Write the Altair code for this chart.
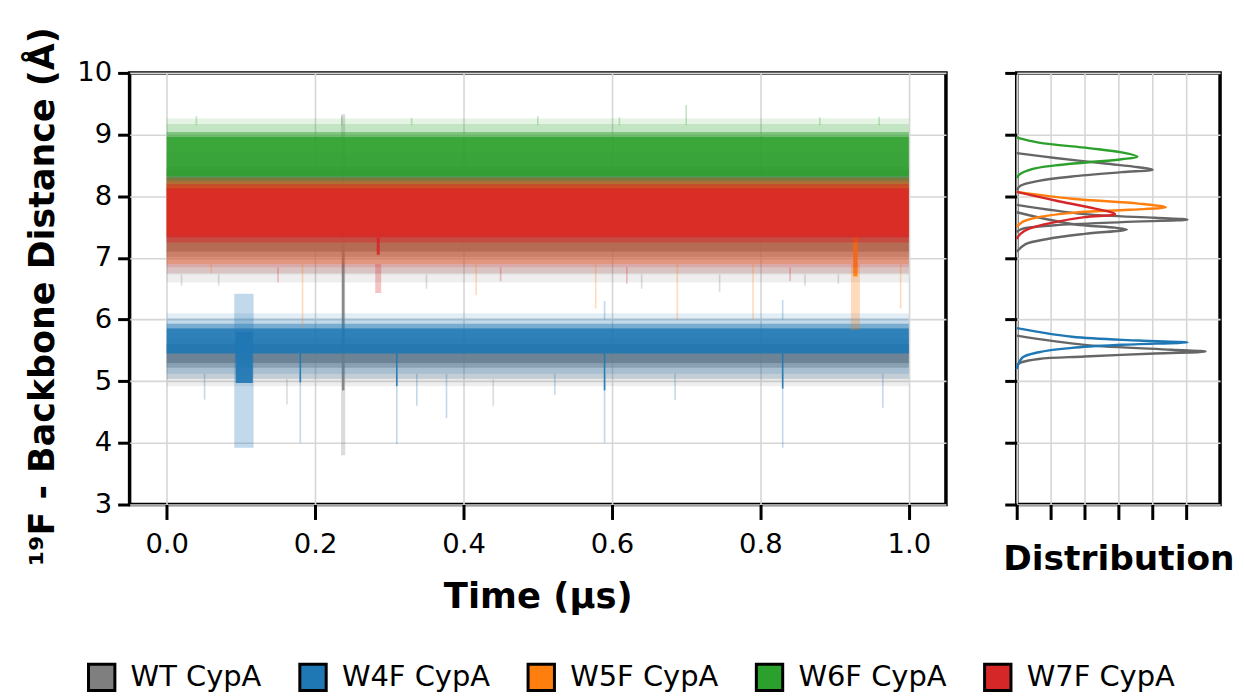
import altair as alt
import pandas as pd

SERIES = ["WT CypA", "W4F CypA", "W5F CypA", "W6F CypA", "W7F CypA"]
COLORS = ["#7f7f7f", "#1f77b4", "#ff7f0e", "#2ca02c", "#d62728"]
LINE_COLORS = ["#666666", "#1f77b4", "#ff7f0e", "#2ca02c", "#d62728"]

# ---- time-series envelopes (raw = faint, smooth = dense core, *edge = fuzzy rim) ----
band_series = ["WT CypA"] * 11 + ["W4F CypA"] * 7 + ["W5F CypA"] * 5 + ["W6F CypA"] * 5 + ["W7F CypA"] * 7
band_kind = ["raw", "rawedge", "raw", "rawedge", "raw", "smooth", "smoothedge", "smooth", "smoothedge", "smooth", "smoothedge",
             "raw", "rawedge", "rawedge", "raw", "smooth", "smoothedge", "smooth",
             "raw", "raw", "smooth", "smoothedge", "smooth",
             "raw", "rawedge", "smooth", "smoothedge", "smoothedge",
             "raw", "rawedge", "raw", "smooth", "smoothedge", "smoothedge", "smooth"]
band_t0 = [0.0, 0.0, 0.0, 0.0, 0.235, 0.0, 0.0, 0.0, 0.0, 0.2362, 0.0,
           0.0, 0.0, 0.0, 0.091, 0.0, 0.0, 0.093,
           0.0, 0.922, 0.0, 0.0, 0.925,
           0.0, 0.0, 0.0, 0.0, 0.0,
           0.0, 0.0, 0.281, 0.0, 0.0, 0.0, 0.283]
band_t1 = [1.0, 1.0, 1.0, 1.0, 0.2405, 1.0, 1.0, 1.0, 1.0, 0.2395, 1.0,
           1.0, 1.0, 1.0, 0.117, 1.0, 1.0, 0.116,
           1.0, 0.934, 1.0, 1.0, 0.931,
           1.0, 1.0, 1.0, 1.0, 1.0,
           1.0, 1.0, 0.289, 1.0, 1.0, 1.0, 0.287]
band_lo = [6.73, 6.60, 5.03, 4.92, 3.80, 7.10, 7.01, 5.29, 5.22, 4.85, 8.42,
           5.12, 6.02, 5.04, 3.92, 5.45, 5.86, 4.97,
           6.90, 5.83, 7.38, 8.17, 6.70,
           8.10, 9.17, 8.33, 8.97, 8.25,
           6.85, 6.75, 6.43, 7.33, 7.25, 8.13, 7.05]
band_hi = [8.70, 6.73, 5.70, 5.03, 9.33, 8.42, 7.10, 5.60, 5.29, 8.30, 8.47,
           6.02, 6.10, 5.12, 6.42, 5.86, 5.93, 5.80,
           8.30, 6.90, 8.17, 8.24, 7.38,
           9.17, 9.26, 8.97, 9.04, 8.33,
           8.30, 6.85, 6.90, 8.13, 7.33, 8.20, 7.33]

# ---- isolated excursions ----
spike_series = ["W4F CypA"] * 16 + ["WT CypA"] * 9 + ["W5F CypA"] * 7 + ["W6F CypA"] * 8 + ["W7F CypA"] * 4
spike_kind = ["raw"] * 12 + ["smooth"] * 4 + ["raw"] * 9 + ["raw"] * 7 + ["raw"] * 8 + ["raw"] * 4
spike_t = [0.051, 0.180, 0.310, 0.337, 0.377, 0.523, 0.590, 0.590, 0.685, 0.830, 0.830, 0.965,
           0.180, 0.310, 0.590, 0.830,
           0.162, 0.440, 0.070, 0.350, 0.860, 0.020, 0.640, 0.745, 0.905,
           0.060, 0.183, 0.417, 0.578, 0.688, 0.790, 0.989,
           0.040, 0.236, 0.330, 0.500, 0.610, 0.700, 0.880, 0.960,
           0.150, 0.450, 0.620, 0.840]
spike_lo = [4.70, 4.00, 3.98, 4.60, 4.40, 4.78, 4.00, 6.00, 4.70, 3.92, 6.00, 4.57,
            4.98, 4.92, 4.85, 4.88,
            4.62, 4.60, 6.55, 6.50, 6.55, 6.55, 6.50, 6.45, 6.58,
            6.75, 5.88, 6.40, 6.18, 6.00, 6.00, 6.18,
            9.15, 9.15, 9.15, 9.15, 9.15, 9.15, 9.15, 9.15,
            6.60, 6.62, 6.58, 6.62]
spike_hi = [5.12, 5.12, 5.12, 5.12, 5.12, 5.12, 5.12, 6.30, 5.12, 5.12, 6.32, 5.12,
            5.45, 5.45, 5.45, 5.45,
            5.03, 5.03, 6.73, 6.73, 6.73, 6.73, 6.73, 6.73, 6.73,
            6.90, 6.90, 6.90, 6.90, 6.90, 6.90, 6.90,
            9.30, 9.30, 9.27, 9.30, 9.28, 9.48, 9.28, 9.29,
            6.85, 6.85, 6.85, 6.85]

# ---- distribution curves (distance, density) ----
wt6_y = [8.70, 8.62, 8.53, 8.47, 8.43, 8.39, 8.32, 8.25, 8.17, 8.10]
wt6_d = [0.00, 1.14, 2.61, 3.59, 4.01, 3.10, 1.63, 0.65, 0.11, 0.00]
wt5_y = [7.86, 7.71, 7.65, 7.62, 7.58, 7.53, 7.47, 7.42]
wt5_d = [0.00, 2.00, 4.08, 5.04, 3.10, 1.14, 0.16, 0.00]
wt7_y = [7.74, 7.55, 7.49, 7.46, 7.39, 7.31, 7.22, 7.10]
wt7_d = [0.00, 1.63, 2.90, 3.25, 2.00, 0.94, 0.25, 0.00]
wt4_y = [5.74, 5.59, 5.51, 5.48, 5.45, 5.40, 5.36, 5.30, 5.26]
wt4_d = [0.00, 2.00, 4.57, 5.57, 4.08, 2.00, 0.65, 0.11, 0.00]
w4f_y = [5.86, 5.72, 5.66, 5.63, 5.59, 5.54, 5.47, 5.38, 5.20]
w4f_d = [0.00, 1.63, 3.59, 5.04, 3.10, 1.63, 0.65, 0.16, 0.00]
w5f_y = [8.07, 7.96, 7.88, 7.82, 7.78, 7.73, 7.66, 7.58, 7.50]
w5f_d = [0.00, 1.63, 3.59, 4.40, 3.30, 1.63, 0.65, 0.16, 0.00]
w6f_y = [8.95, 8.87, 8.78, 8.71, 8.64, 8.60, 8.55, 8.50, 8.44, 8.36, 8.30]
w6f_d = [0.00, 0.65, 2.12, 3.10, 3.56, 3.10, 2.12, 1.14, 0.45, 0.10, 0.00]
w7f_y = [8.07, 7.93, 7.80, 7.71, 7.66, 7.58, 7.47, 7.39, 7.31]
w7f_d = [0.00, 1.14, 2.31, 2.90, 2.00, 1.14, 0.35, 0.11, 0.00]

time_ticks = [0.0, 0.2, 0.4, 0.6, 0.8, 1.0]
dist_ticks = [3, 4, 5, 6, 7, 8, 9, 10]
dens_ticks = [0, 1, 2, 3, 4, 5]

bands = pd.DataFrame({"series": band_series, "kind": band_kind, "t0": band_t0,
                      "t1": band_t1, "lo": band_lo, "hi": band_hi})
spikes = pd.DataFrame({"series": spike_series, "kind": spike_kind, "t": spike_t,
                       "lo": spike_lo, "hi": spike_hi})
# legend carrier: one row per series, placed outside the time domain (clipped away)
legend_rows = pd.DataFrame({"series": SERIES, "t": [-1.0] * 5, "lo": [0.0] * 5})

curve_defs = [("wt6", "WT CypA", wt6_y, wt6_d), ("wt5", "WT CypA", wt5_y, wt5_d),
              ("wt7", "WT CypA", wt7_y, wt7_d), ("wt4", "WT CypA", wt4_y, wt4_d),
              ("w4f", "W4F CypA", w4f_y, w4f_d), ("w5f", "W5F CypA", w5f_y, w5f_d),
              ("w6f", "W6F CypA", w6f_y, w6f_d), ("w7f", "W7F CypA", w7f_y, w7f_d)]
rows = []
for cid, s, ys, ds in curve_defs:
    for i, (yv, dv) in enumerate(zip(ys, ds)):
        rows.append({"curve": cid, "series": s, "y": yv, "d": dv, "idx": i})
curves = pd.DataFrame(rows)

color_scale = alt.Scale(domain=SERIES, range=COLORS)
opacity_scale = alt.Scale(type="ordinal", domain=["raw", "rawedge", "smooth", "smoothedge"],
                          range=[0.28, 0.13, 0.9, 0.45])
y_scale = alt.Scale(domain=[3, 10], nice=False, zero=False)
x_scale = alt.Scale(domain=[-0.05, 1.05], nice=False, zero=False)


def make_legend():
    return alt.Legend(title=None, orient="none", legendX=-43, legendY=591,
                      direction="horizontal", columns=5)


legend_marks = alt.Chart(legend_rows).mark_square(
    size=700, strokeWidth=3, opacity=1, clip=True
).encode(
    x=alt.X("t:Q", scale=x_scale,
            axis=alt.Axis(values=time_ticks, format=".1f", title="Time (µs)",
                          titleFontSize=35.5)),
    y=alt.Y("lo:Q", scale=y_scale,
            axis=alt.Axis(values=dist_ticks, format="d", tickSize=12, titleY=224,
                          title="¹⁹F - Backbone Distance (Å)")),
    fill=alt.Fill("series:N", scale=alt.Scale(domain=SERIES, range=COLORS),
                  legend=make_legend()),
    stroke=alt.Stroke("series:N", scale=alt.Scale(domain=SERIES, range=["#000000"] * 5),
                      legend=make_legend()),
)

rects = alt.Chart(bands).mark_rect().encode(
    x=alt.X("t0:Q", scale=x_scale),
    x2="t1:Q",
    y=alt.Y("lo:Q", scale=y_scale),
    y2="hi:Q",
    color=alt.Color("series:N", scale=color_scale, legend=None),
    opacity=alt.Opacity("kind:N", scale=opacity_scale, legend=None),
)

rules = alt.Chart(spikes).mark_rule(strokeWidth=1.6).encode(
    x="t:Q", y="lo:Q", y2="hi:Q",
    color=alt.Color("series:N", scale=color_scale, legend=None),
    opacity=alt.Opacity("kind:N", scale=opacity_scale, legend=None),
)

left = alt.layer(legend_marks, rects, rules).properties(width=819, height=433)

right = alt.Chart(curves).mark_line(strokeWidth=2.4, interpolate="catmull-rom").encode(
    x=alt.X("d:Q", scale=alt.Scale(domain=[0, 6], nice=False),
            axis=alt.Axis(values=dens_ticks, labels=False, title="Distribution",
                          titleFontSize=34.5)),
    y=alt.Y("y:Q", scale=y_scale,
            axis=alt.Axis(values=dist_ticks, labels=False, tickSize=12, title=None)),
    color=alt.Color("series:N", scale=alt.Scale(domain=SERIES, range=LINE_COLORS), legend=None),
    detail="curve:N",
    order=alt.Order("idx:Q"),
).properties(width=204, height=433)

chart = alt.hconcat(left, right, spacing=71, bounds="flush").resolve_scale(
    color="independent"
).properties(
    padding={"left": 16, "top": 15, "right": 0, "bottom": 0}
).configure_view(
    stroke="black", strokeWidth=3.5
).configure_axis(
    domain=False, grid=True, gridColor="#d6d6d6", gridWidth=1.6,
    tickColor="black", tickWidth=3, tickSize=15,
    labelFont="DejaVu Sans", labelFontSize=27.5, labelColor="black", labelPadding=11,
    titleFont="DejaVu Sans", titleFontSize=34, titleFontWeight="bold", titleColor="black",
).configure_axisX(titlePadding=22).configure_axisY(titlePadding=16, labelPadding=6,
                                                    titleFontSize=35).configure_legend(
    symbolType="square", symbolSize=700, symbolStrokeColor="black", symbolStrokeWidth=3,
    symbolOpacity=1, labelFont="DejaVu Sans", labelFontSize=29, labelColor="black",
    labelOffset=14, columnPadding=31,
)

chart.save("out.html", embed_options={"renderer": "svg", "actions": False})
